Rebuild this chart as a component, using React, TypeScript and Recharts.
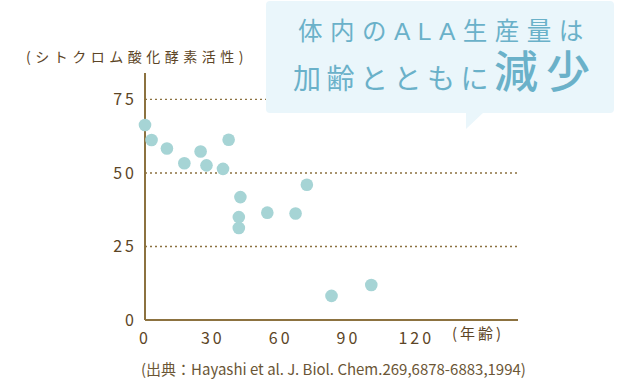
import { ScatterChart, Scatter, XAxis, YAxis, CartesianGrid } from "recharts";

// age (years) vs. cytochrome oxidase activity
const ages = [0, 2.9, 9.7, 17.4, 24.6, 27.2, 34.5, 37, 42.2, 41.5, 41.5, 54.1, 66.6, 71.6, 82.5, 100.1];
const activity = [66.3, 61.2, 58.3, 53.3, 57.3, 52.6, 51.4, 61.3, 41.8, 35, 31.3, 36.5, 36.2, 46, 8.2, 11.9];
const xTicks = [0, 30, 60, 90, 120];
const yTicks = [0, 25, 50, 75];
const gridValues = [25, 50, 75];

const points = ages.map((age, i) => ({ age, value: activity[i] }));

const BROWN = "#8c7240";
const TEXT = "#5c4526";
const CALLOUT_TEXT = "#6ab1c9";
const FONT = '"Noto Sans CJK JP", "Noto Sans", sans-serif';
// tighter primary metrics for the callout lines so the two lines sit close
const CALLOUT_FONT = '"Liberation Sans", "Noto Sans CJK JP", sans-serif';

function XTick({ x, y, payload }: any) {
  return (
    <text x={x} y={y + 16} textAnchor="middle" fill={TEXT} fontSize={16} fontFamily={FONT} letterSpacing={3}>
      {payload.value}
    </text>
  );
}

function YTick({ x, y, payload }: any) {
  return (
    <text x={x} y={y + 6} textAnchor="end" fill={TEXT} fontSize={16} fontFamily={FONT} letterSpacing={3}>
      {payload.value}
    </text>
  );
}

function Dot({ cx, cy }: any) {
  return <circle cx={cx} cy={cy} r={6.3} fill="#a6d4d5" />;
}

const abs = (left: number, top: number, extra: any) => ({
  position: "absolute" as const,
  left,
  top,
  whiteSpace: "nowrap" as const,
  lineHeight: 1,
  ...extra,
});

export default function App() {
  return (
    <div style={{ position: "absolute", left: 0, top: 0, width: 640, height: 380, background: "#fff", fontFamily: FONT }}>
      <ScatterChart width={640} height={380} margin={{ top: 73, right: 122, bottom: 0, left: 85 }}>
        <CartesianGrid
          vertical={false}
          horizontalValues={gridValues}
          stroke={BROWN}
          strokeDasharray="2 3"
          strokeWidth={1.3}
        />
        <XAxis
          type="number"
          dataKey="age"
          domain={[0, 165]}
          ticks={xTicks}
          axisLine={{ stroke: BROWN, strokeWidth: 2 }}
          tickLine={false}
          tick={<XTick />}
          height={60}
        />
        <YAxis
          type="number"
          dataKey="value"
          domain={[0, 84]}
          ticks={yTicks}
          axisLine={{ stroke: BROWN, strokeWidth: 2 }}
          tickLine={false}
          tick={<YTick />}
          width={60}
        />
        <Scatter data={points} shape={<Dot />} isAnimationActive={false} />
      </ScatterChart>

      <div style={{ position: "absolute", left: 26, top: 46, fontSize: 14, letterSpacing: 4.5, color: TEXT }}>
        (シトクロム酸化酵素活性)
      </div>
      <div style={{ position: "absolute", left: 452, top: 322, fontSize: 15, letterSpacing: 3, color: TEXT }}>
        (年齢)
      </div>
      <div style={{ position: "absolute", left: 141, top: 358, fontSize: 15, color: "#6b5636", whiteSpace: "nowrap" }}>
        (出典：Hayashi et al. J. Biol. Chem.269,6878-6883,1994)
      </div>

      {/* callout */}
      <div
        style={{
          position: "absolute",
          left: 266,
          top: 1,
          width: 348,
          height: 112,
          background: "#eaf6fb",
          borderRadius: 4,
        }}
      />
      <svg style={{ position: "absolute", left: 466, top: 112 }} width={20} height={18}>
        <polygon points="0,0 18,0 0,17" fill="#eaf6fb" />
      </svg>
      <div
        style={abs(298, 21, {
          fontFamily: CALLOUT_FONT,
          fontSize: 24.5,
          lineHeight: "22px",
          letterSpacing: 7.5,
          color: CALLOUT_TEXT,
        })}
      >
        体内のALA生産量は
      </div>
      <div style={abs(293, 63, { fontSize: 28, letterSpacing: 5.5, color: CALLOUT_TEXT })}>加齢とともに</div>
      <div
        style={abs(494, 51, {
          fontFamily: CALLOUT_FONT,
          fontSize: 44,
          letterSpacing: 8,
          fontWeight: 500,
          color: CALLOUT_TEXT,
        })}
      >
        減少
      </div>
    </div>
  );
}
